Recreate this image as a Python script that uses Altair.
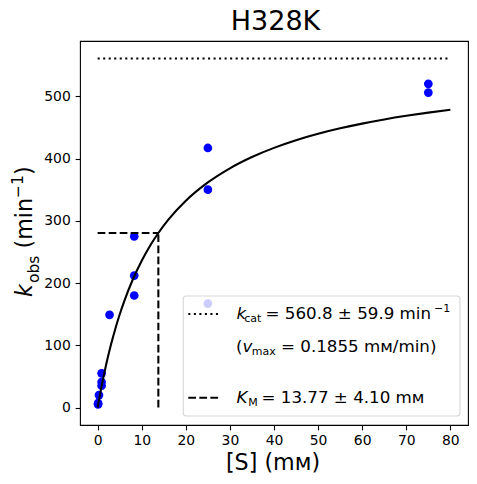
import altair as alt
import pandas as pd

# ---- data ----
conc = [0.1, 0.1, 0.3, 0.9, 0.9, 0.9, 2.7, 8.3, 8.3, 8.3, 25, 25, 25, 75, 75]
kobs = [5, 7, 20, 35, 41, 55, 149, 180, 212, 275, 167, 350, 417, 506, 520]

curve_s = [0, 0.5, 1, 2, 3, 4, 5, 6, 8, 10, 12, 13.77, 16, 20, 25, 30, 35, 40,
           45, 50, 55, 60, 65, 70, 75, 80]
curve_k = [0, 19.65, 37.97, 71.12, 100.32, 126.24, 149.39, 170.20, 206.08,
           235.93, 261.14, 280.40, 301.40, 332.13, 361.62, 384.37, 402.46,
           417.18, 429.40, 439.71, 448.51, 456.12, 462.77, 468.62, 473.81, 478.45]

kcat = 560.8
km = 13.77
s_max = 80

x_ticks = [0, 10, 20, 30, 40, 50, 60, 70, 80]
y_ticks = [0, 100, 200, 300, 400, 500]

FONT = "DejaVu Sans"
LW = 2.08

xscale = alt.Scale(domain=[-4, 84], nice=False, zero=False)
yscale = alt.Scale(domain=[-28.04, 588.84], nice=False, zero=False)
xaxis = alt.Axis(values=x_ticks, title=None, grid=False, domain=False,
                 tickColor="black", tickSize=4.86, tickWidth=1.1,
                 labelColor="black", labelFont=FONT, labelFontSize=13.9,
                 labelPadding=4.0, labelFlush=False)
yaxis = alt.Axis(values=y_ticks, title=None, grid=False, domain=False,
                 tickColor="black", tickSize=4.86, tickWidth=1.1,
                 labelColor="black", labelFont=FONT, labelFontSize=13.9,
                 labelPadding=4.86, labelFlush=False)

pts = pd.DataFrame({"x": conc, "y": kobs})
cur = pd.DataFrame({"x": curve_s, "y": curve_k})
kcat_df = pd.DataFrame({"x": [0], "x2": [s_max], "y": [kcat]})
kmh_df = pd.DataFrame({"x": [0], "x2": [km], "y": [kcat / 2]})
kmv_df = pd.DataFrame({"x": [km], "y": [0], "y2": [kcat / 2]})
one = pd.DataFrame({"a": [0]})

X = alt.X("x:Q", scale=xscale, axis=xaxis)
Y = alt.Y("y:Q", scale=yscale, axis=yaxis)

points = alt.Chart(pts).mark_circle(size=76, color="#0000ff", opacity=1).encode(x=X, y=Y)
curve = alt.Chart(cur).mark_line(color="black", strokeWidth=LW, interpolate="monotone").encode(x=X, y=Y)
dotted = alt.Chart(kcat_df).mark_rule(color="black", strokeWidth=LW, strokeDash=[2.08, 3.44]).encode(
    x=X, x2="x2:Q", y=Y)
dash_h = alt.Chart(kmh_df).mark_rule(color="black", strokeWidth=LW, strokeDash=[7.7, 3.33]).encode(
    x=X, x2="x2:Q", y=Y)
dash_v = alt.Chart(kmv_df).mark_rule(color="black", strokeWidth=LW, strokeDash=[7.7, 3.33]).encode(
    x=X, y=Y, y2="y2:Q")


def txt(s, x, y, size, italic=False, angle=None, align="left"):
    kw = dict(fontSize=size, font=FONT, color="black", align=align, baseline="alphabetic")
    if italic:
        kw["fontStyle"] = "italic"
    if angle is not None:
        kw["angle"] = angle
    return alt.Chart(one).mark_text(**kw).encode(
        x=alt.value(x), y=alt.value(y), text=alt.value(s))


# legend frame and handles
legend_box = alt.Chart(one).mark_rect(fill="white", fillOpacity=0.8, stroke="#cccccc",
                                      strokeOpacity=0.8, strokeWidth=1.1, cornerRadius=3).encode(
    x=alt.value(103.3), x2=alt.value(380), y=alt.value(255), y2=alt.value(375))
h1 = alt.Chart(one).mark_rule(color="black", strokeWidth=LW, strokeDash=[2.08, 3.44]).encode(
    x=alt.value(108.3), x2=alt.value(139.3), y=alt.value(273))
h2 = alt.Chart(one).mark_rule(color="black", strokeWidth=LW, strokeDash=[7.7, 3.33]).encode(
    x=alt.value(108.3), x2=alt.value(139.3), y=alt.value(356.7))

LS = 16.7
SS = 11.0
legend_txt = [
    txt("k", 156.6, 277.5, LS, italic=True),
    txt("cat", 164.2, 280.5, SS),
    txt("= 560.8 ± 59.9 min", 185.5, 277.5, LS),
    txt("−1", 354, 271.3, SS),
    txt("(", 155.9, 310.5, LS),
    txt("v", 162.5, 310.5, LS, italic=True),
    txt("max", 171.7, 313.5, SS),
    txt("= 0.1855 mᴍ/min)", 201, 310.5, LS),
    txt("K", 156.6, 362.3, LS, italic=True),
    txt("M", 168.3, 365.3, SS),
    txt("= 13.77 ± 4.10 mᴍ", 181.5, 362.3, LS),
]

YS = 22.2
YSS = 15.5
labels = [
    txt("H328K", 195.5, -11, 27, align="center"),
    txt("[S] (mᴍ)", 193, 429, YS, align="center"),
    txt("k", -48, 256, YS, italic=True, angle=270),
    txt("obs", -41, 242, YSS, angle=270),
    txt("(min", -48, 207.5, YS, angle=270),
    txt("−1", -57, 156.9, YSS, angle=270),
    txt(")", -48, 134, YS, angle=270),
]

chart = alt.layer(points, curve, dotted, dash_h, dash_v, legend_box, h1, h2,
                  *legend_txt, *labels).properties(
    width=388, height=384,
    autosize=alt.AutoSizeParams(type="none"),
    padding={"left": 72, "top": 33, "right": 1, "bottom": 51},
).configure_view(stroke="black", strokeWidth=1.1)

chart.save("out.html", embed_options={"renderer": "svg", "actions": False})
